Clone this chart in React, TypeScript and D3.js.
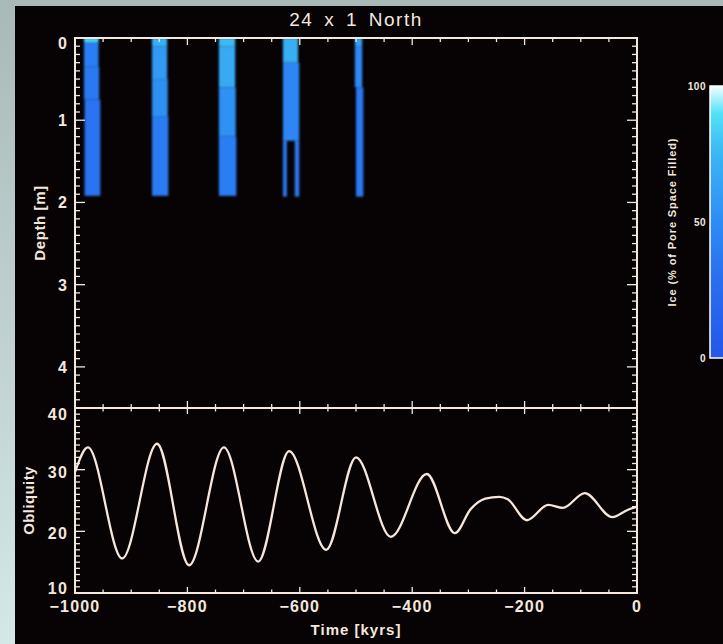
import React from 'react';
import * as d3 from 'd3';

// ---------- data ----------
const TITLE = '24 x 1 North';
const TIME_TICKS = [-1000, -800, -600, -400, -200, 0];
const DEPTH_TICKS = [0, 1, 2, 3, 4];
const OBL_TICKS = [10, 20, 30, 40];
const CBAR_TICKS = [0, 50, 100];

// obliquity curve (kyr, degrees)
const OBL_TIME = [-1000, -977, -916, -854, -797, -735, -674, -619, -553, -500, -438, -374, -324, -296, -270, -245, -230, -196, -158, -132, -93, -44, -16, 0];
const OBL_VALUE = [29.6, 33.6, 15.6, 34.2, 14.5, 33.6, 15.1, 33.0, 17.0, 32.0, 19.1, 29.3, 19.7, 23.6, 25.3, 25.6, 25.2, 21.8, 24.3, 23.8, 26.2, 22.3, 23.5, 24.0];

// ice cells: [timeStart, timeEnd, depthTop, depthBottom, ice %]
const ICE_BAR1 = [
  [-984, -958, 0, 0.05, 85],
  [-984, -958, 0.05, 0.35, 40],
  [-984, -957, 0.35, 0.75, 36],
  [-983, -955, 0.75, 1.92, 33],
];
const ICE_BAR2 = [
  [-863, -836, 0, 0.1, 70],
  [-863, -836, 0.1, 0.5, 58],
  [-863, -835, 0.5, 0.95, 52],
  [-863, -834, 0.95, 1.92, 38],
];
const ICE_BAR3 = [
  [-744, -715, 0, 0.1, 76],
  [-744, -715, 0.1, 0.6, 68],
  [-744, -714, 0.6, 1.2, 53],
  [-744, -713, 1.2, 1.92, 40],
];
const ICE_BAR4 = [
  [-630, -603, 0, 0.3, 70],
  [-630, -601, 0.3, 1.25, 46],
  [-630, -623, 1.25, 1.93, 36],
  [-609, -601, 1.25, 1.93, 36],
];
const ICE_BAR5 = [
  [-502, -489, 0, 0.1, 62],
  [-502, -489, 0.1, 0.6, 48],
  [-500, -487, 0.6, 1.93, 36],
];

const ICE_STOPS = [0, 30, 50, 75, 90, 100];
const ICE_COLORS = ['#2456ea', '#2a6ff0', '#2e8cf5', '#3ab6f4', '#52e2f8', '#f4feff'];

// ---------- component ----------
const FG = '#f3e7de';
const FONT = '"Liberation Sans", Arial, sans-serif';

export default function App() {
  const L = 75, R = 637;
  const uTop = 38, mid = 408, lBot = 593;
  const x = d3.scaleLinear().domain([-1000, 0]).range([L, R]);
  const yD = d3.scaleLinear().domain([0, 4.5]).range([uTop, mid]);
  const yO = d3.scaleLinear().domain([10, 40]).range([lBot, mid]);
  const cmap = d3.scaleLinear<string>().domain(ICE_STOPS).range(ICE_COLORS).interpolate(d3.interpolateRgb);
  const cb = d3.scaleLinear().domain([0, 100]).range([358, 86]);

  const line = d3.line<number>()
    .x((_, i) => x(OBL_TIME[i]))
    .y((d) => yO(d))
    .curve(d3.curveMonotoneX);

  const cells = [...ICE_BAR1, ...ICE_BAR2, ...ICE_BAR3, ...ICE_BAR4, ...ICE_BAR5];

  const minorX = d3.range(-1000, 1, 50);
  const minorD = d3.range(0, 4.51, 0.1);
  const minorO = d3.range(10, 40.01, 1);

  const ticks: React.ReactNode[] = [];
  let k = 0;
  const seg = (x1: number, y1: number, x2: number, y2: number) =>
    ticks.push(<line key={k++} x1={x1} y1={y1} x2={x2} y2={y2} stroke={FG} strokeWidth={1.3} />);

  minorX.forEach((t) => {
    const major = Math.abs(t % 200) < 1e-6;
    const xx = x(t);
    const lu = major ? 7 : 4;
    const ll = major ? 6 : 3.5;
    seg(xx, uTop, xx, uTop + lu);
    seg(xx, mid, xx, mid - lu);
    seg(xx, mid, xx, mid + ll);
    seg(xx, lBot, xx, lBot - ll);
  });
  minorD.forEach((d) => {
    const major = Math.abs(d - Math.round(d)) < 1e-6;
    const yy = yD(d);
    const len = major ? 10 : 5;
    seg(L, yy, L + len, yy);
    seg(R, yy, R - len, yy);
  });
  minorO.forEach((v) => {
    const major = Math.abs(v % 10) < 1e-6;
    const yy = yO(v);
    const len = major ? 10 : 5;
    seg(L, yy, L + len, yy);
    seg(R, yy, R - len, yy);
  });

  const fmt = (v: number) => (v < 0 ? '\u2212' + Math.abs(v) : String(v));
  const lab = { fill: FG, fontSize: 16, fontWeight: 'bold' as const, letterSpacing: 1.2 };

  return (
    <svg width={723} height={644} style={{ position: 'absolute', left: 0, top: 0 }} fontFamily={FONT}>
      <defs>
        <linearGradient id="bg" x1="0" y1="0" x2="0" y2="1">
          <stop offset="0" stopColor="#a9b9b8" />
          <stop offset="1" stopColor="#d3e8e7" />
        </linearGradient>
        <linearGradient id="cbar" x1="0" y1="1" x2="0" y2="0">
          {ICE_STOPS.map((s, i) => (
            <stop key={i} offset={s / 100} stopColor={ICE_COLORS[i]} />
          ))}
        </linearGradient>
        <filter id="soft" x="-20%" y="-5%" width="140%" height="110%">
          <feGaussianBlur stdDeviation="1" />
        </filter>
        <clipPath id="upper">
          <rect x={L} y={uTop} width={R - L} height={mid - uTop} />
        </clipPath>
      </defs>
      <rect x={0} y={0} width={723} height={644} fill="url(#bg)" />
      <rect x={15} y={6} width={708} height={638} fill="#070304" />

      <g clipPath="url(#upper)" filter="url(#soft)">
        {cells.map((c, i) => (
          <rect
            key={i}
            x={x(c[0])}
            y={yD(c[2])}
            width={x(c[1]) - x(c[0])}
            height={yD(c[3]) - yD(c[2])}
            fill={cmap(c[4])}
          />
        ))}
      </g>

      <path d={line(OBL_VALUE) || ''} fill="none" stroke="#f6e6dc" strokeWidth={2.3} />

      <rect x={L} y={uTop} width={R - L} height={mid - uTop} fill="none" stroke={FG} strokeWidth={2} />
      <rect x={L} y={mid} width={R - L} height={lBot - mid} fill="none" stroke={FG} strokeWidth={2} />
      {ticks}

      <text x={(L + R) / 2} y={26} textAnchor="middle" fill={FG} fontSize={19} letterSpacing={1.5} wordSpacing={4}>{TITLE}</text>

      {DEPTH_TICKS.map((d) => (
        <text key={d} x={68} y={yD(d) + (d === 0 ? 11 : 6)} textAnchor="end" {...lab}>{d}</text>
      ))}
      <text transform={`translate(45,${(uTop + mid) / 2}) rotate(-90)`} textAnchor="middle" fill={FG} fontSize={15} fontWeight="bold" letterSpacing={0.6}>Depth [m]</text>

      {OBL_TICKS.map((v) => (
        <text key={v} x={68} y={yO(v) + (v === 40 ? 12 : v === 10 ? 1 : 8)} textAnchor="end" {...lab}>{v}</text>
      ))}
      <text transform={`translate(34,${(mid + lBot) / 2}) rotate(-90)`} textAnchor="middle" fill={FG} fontSize={15} fontWeight="bold" letterSpacing={0.4}>Obliquity</text>

      {TIME_TICKS.map((t) => (
        <text key={t} x={x(t)} y={612} textAnchor="middle" {...lab}>{fmt(t)}</text>
      ))}
      <text x={(L + R) / 2} y={635} textAnchor="middle" fill={FG} fontSize={15} fontWeight="bold" letterSpacing={1}>Time [kyrs]</text>

      <rect x={710} y={cb(100)} width={40} height={cb(0) - cb(100)} fill="url(#cbar)" stroke="#ffffff" strokeWidth={1.5} />
      {CBAR_TICKS.map((v) => (
        <text key={v} x={706} y={cb(v) + 4} textAnchor="end" fill={FG} fontSize={10} fontWeight="bold" letterSpacing={0.5}>{v}</text>
      ))}
      <text transform={`translate(676,${(cb(0) + cb(100)) / 2}) rotate(-90)`} textAnchor="middle" fill={FG} fontSize={11} fontWeight="bold" letterSpacing={0.9}>Ice (% of Pore Space Filled)</text>
    </svg>
  );
}
